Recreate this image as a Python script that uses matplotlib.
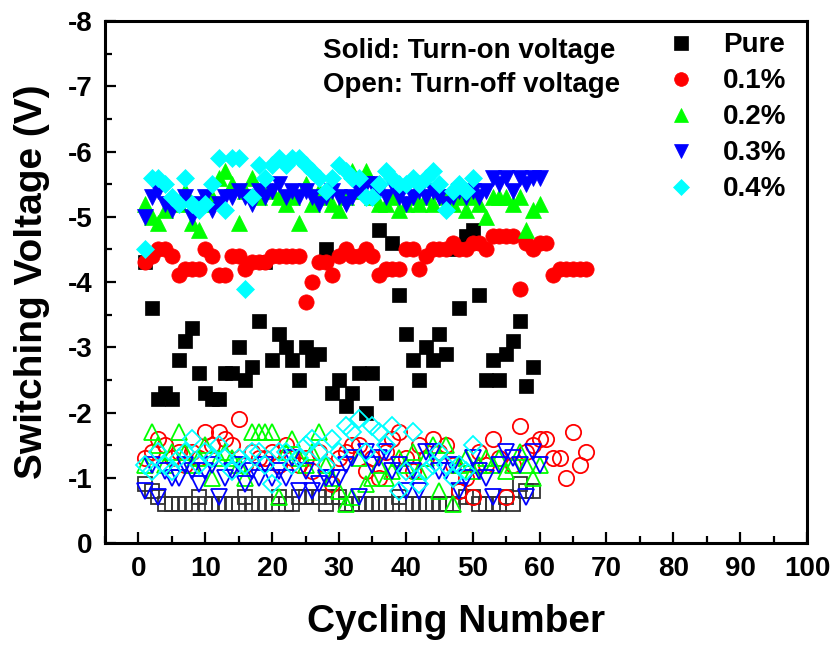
import numpy as np
import matplotlib
matplotlib.use("Agg")
import matplotlib.pyplot as plt
from matplotlib.ticker import MultipleLocator

plt.rcParams["axes.unicode_minus"] = False

# Turn-on voltages (solid markers), one value per cycle starting at cycle 1
pure_on = [-4.3, -3.6, -2.2, -2.3, -2.2, -2.8, -3.1, -3.3, -2.6, -2.3,
           -2.2, -2.2, -2.6, -2.6, -3.0, -2.5, -2.7, -3.4, -4.3, -2.8,
           -3.2, -3.0, -2.8, -2.5, -3.0, -2.8, -2.9, -4.5, -2.3, -2.5,
           -2.1, -2.3, -2.6, -2.0, -2.6, -4.8, -2.3, -4.6, -3.8, -3.2,
           -2.8, -2.5, -3.0, -2.8, -3.2, -2.9, -4.5, -3.6, -4.7, -4.8,
           -3.8, -2.5, -2.8, -2.5, -2.9, -3.1, -3.4, -2.4, -2.7]
p01_on = [-4.3, -4.4, -4.5, -4.5, -4.4, -4.1, -4.2, -4.2, -4.2, -4.5,
          -4.4, -4.1, -4.1, -4.4, -4.4, -4.2, -4.3, -4.3, -4.3, -4.4,
          -4.4, -4.4, -4.4, -4.4, -3.7, -4.0, -4.3, -4.3, -4.1, -4.4,
          -4.5, -4.4, -4.4, -4.5, -4.4, -4.1, -4.2, -4.2, -4.2, -4.5,
          -4.5, -4.2, -4.4, -4.5, -4.5, -4.5, -4.6, -4.5, -4.5, -4.6,
          -4.6, -4.5, -4.7, -4.7, -4.7, -4.7, -3.9, -4.6, -4.5, -4.6,
          -4.6, -4.1, -4.2, -4.2, -4.2, -4.2, -4.2]
p02_on = [-5.2, -5.0, -4.9, -5.1, -5.3, -5.2, -5.4, -4.9, -4.8, -5.2,
          -5.3, -5.6, -5.7, -5.5, -4.9, -5.4, -5.6, -5.3, -5.5, -5.4,
          -5.3, -5.2, -5.3, -4.9, -5.5, -5.2, -5.4, -5.3, -5.2, -5.1,
          -5.3, -5.7, -5.4, -5.7, -5.3, -5.2, -5.2, -5.3, -5.1, -5.2,
          -5.3, -5.2, -5.3, -5.2, -5.4, -5.3, -5.2, -5.3, -5.1, -5.3,
          -5.2, -5.0, -5.3, -5.3, -5.3, -5.2, -5.3, -4.8, -5.1, -5.2]
p03_on = [-5.0, -5.3, -5.4, -5.2, -5.1, -5.2, -5.3, -5.0, -5.2, -5.3,
          -5.1, -5.2, -5.3, -5.3, -5.4, -5.3, -5.2, -5.4, -5.3, -5.4,
          -5.5, -5.3, -5.4, -5.3, -5.4, -5.3, -5.2, -5.3, -5.4, -5.3,
          -5.2, -5.3, -5.4, -5.5, -5.5, -5.4, -5.3, -5.5, -5.3, -5.2,
          -5.3, -5.4, -5.3, -5.4, -5.3, -5.2, -5.3, -5.4, -5.3, -5.4,
          -5.3, -5.4, -5.6, -5.5, -5.6, -5.4, -5.6, -5.5, -5.6, -5.6]
p04_on = [-4.5, -5.6, -5.6, -5.5, -5.3, -5.2, -5.6, -5.2, -5.1, -5.2,
          -5.5, -5.9, -5.1, -5.9, -5.9, -3.9, -5.3, -5.8, -5.6, -5.8,
          -5.9, -5.8, -5.9, -5.9, -5.8, -5.7, -5.6, -5.4, -5.6, -5.8,
          -5.7, -5.6, -5.6, -5.3, -5.3, -5.5, -5.7, -5.6, -5.5, -5.5,
          -5.6, -5.5, -5.6, -5.7, -5.5, -5.1, -5.4, -5.5, -5.4, -5.6]

# Turn-off voltages (open markers)
pure_off = [-0.9, -0.8, -0.7, -0.6, -0.6, -0.6, -0.6, -0.6, -0.7, -0.6,
            -0.6, -0.6, -0.6, -0.6, -0.6, -0.7, -0.6, -0.6, -0.6, -0.6,
            -0.7, -0.6, -0.6, -0.7, -0.7, -0.7, -0.7, -0.6, -0.7, -0.7,
            -0.6, -0.6, -0.6, -0.6, -0.6, -0.6, -0.6, -0.6, -0.7, -0.6,
            -0.6, -0.6, -0.6, -0.6, -0.6, -0.6, -0.6, -0.8, -0.7, -0.7,
            -0.6, -0.6, -0.6, -0.6, -0.7, -0.6, -0.9, -0.8, -0.8]
p01_off = [-1.3, -1.4, -1.6, -1.5, -1.3, -1.4, -1.2, -1.4, -1.3, -1.7,
           -1.5, -1.7, -1.6, -1.5, -1.9, -1.2, -1.4, -1.3, -1.3, -1.4,
           -1.2, -1.5, -1.3, -1.2, -1.3, -1.1, -1.4, -1.2, -0.9, -1.3,
           -1.4, -1.5, -1.5, -1.1, -1.3, -1.0, -1.4, -1.6, -1.7, -1.3,
           -1.1, -1.5, -1.3, -1.6, -1.4, -1.5, -1.2, -0.8, -1.0, -0.7,
           -1.4, -1.2, -1.6, -1.3, -0.7, -1.2, -1.8, -1.4, -1.5, -1.6,
           -1.6, -1.3, -1.3, -1.0, -1.7, -1.2, -1.4]
p02_off = [-1.2, -1.7, -1.5, -1.2, -1.4, -1.7, -1.4, -1.2, -1.3, -1.5,
           -1.0, -1.3, -1.4, -1.3, -1.2, -1.0, -1.7, -1.7, -1.7, -1.7,
           -0.7, -1.4, -1.6, -1.3, -1.2, -1.4, -1.7, -1.2, -1.0, -0.8,
           -0.6, -0.7, -1.3, -0.9, -1.0, -1.2, -1.0, -1.1, -1.3, -1.2,
           -1.4, -1.1, -1.3, -1.5, -0.8, -1.5, -0.6, -1.2, -1.3, -1.1,
           -1.2, -1.3, -1.2, -1.3, -1.1, -1.2, -1.4, -1.2, -1.0, -1.2]
p03_off = [-0.8, -1.2, -0.7, -1.1, -1.0, -1.0, -1.2, -1.1, -0.9, -1.1,
           -1.2, -0.7, -1.0, -1.1, -1.2, -0.9, -1.1, -1.0, -1.2, -1.0,
           -1.1, -1.0, -1.3, -0.8, -1.1, -0.8, -0.9, -1.0, -1.0, -1.0,
           -1.2, -1.3, -0.7, -1.4, -1.2, -1.3, -1.4, -1.1, -1.2, -0.8,
           -1.1, -0.8, -1.4, -1.4, -1.1, -1.1, -1.2, -0.8, -1.0, -1.3,
           -1.1, -1.0, -0.7, -1.2, -1.4, -1.3, -1.2, -0.7, -1.4, -1.2]
p04_off = [-1.2, -1.1, -1.4, -1.2, -1.1, -1.3, -1.4, -1.6, -1.2, -1.4,
           -1.3, -1.5, -1.3, -1.1, -1.3, -1.2, -1.4, -1.4, -1.2, -0.9,
           -1.4, -1.4, -1.2, -1.3, -1.5, -1.6, -1.4, -1.2, -1.6, -1.4,
           -1.8, -1.7, -1.9, -1.4, -1.8, -1.7, -1.5, -1.8, -0.8, -1.1,
           -1.7, -0.9, -1.1, -1.2, -1.4, -1.2, -1.0, -1.2, -1.1, -1.5]

labels = ["Pure", "0.1%", "0.2%", "0.3%", "0.4%"]
x_ticks = [0, 10, 20, 30, 40, 50, 60, 70, 80, 90, 100]
y_ticks = [0, -1, -2, -3, -4, -5, -6, -7, -8]

on_sets = [pure_on, p01_on, p02_on, p03_on, p04_on]
off_sets = [pure_off, p01_off, p02_off, p03_off, p04_off]
colors = ["#000000", "#ff0000", "#00ff00", "#0000ff", "#00ffff"]
edge_off = ["#333333", "#ff0000", "#00ff00", "#0000ff", "#00ffff"]
markers = ["s", "o", "^", "v", "D"]
sizes = [10.5, 11, 11.5, 11.5, 9.0]

font = ["Liberation Sans", "DejaVu Sans"]

fig = plt.figure(figsize=(8.34, 6.48), dpi=100)
ax = fig.add_axes([0.1259, 0.162, 0.8417, 0.8056])

handles = []
for vals, c, m, s, lab in zip(on_sets, colors, markers, sizes, labels):
    xs = np.arange(1, len(vals) + 1)
    h, = ax.plot(xs, vals, ls="none", marker=m, ms=s, mfc=c, mec=c,
                 mew=0.5, label=lab)
    handles.append(h)
for vals, c, m, s in zip(off_sets, edge_off, markers, sizes):
    xs = np.arange(1, len(vals) + 1)
    ax.plot(xs, vals, ls="none", marker=m, ms=s, mfc="none", mec=c, mew=1.3)

ax.set_xlim(-5, 100)
ax.set_ylim(0, -8)
ax.set_xticks(x_ticks)
ax.set_yticks(y_ticks)
ax.xaxis.set_minor_locator(MultipleLocator(5))
ax.yaxis.set_minor_locator(MultipleLocator(0.5))
ax.tick_params(which="both", direction="in", top=False, right=False,
               width=1.6)
ax.tick_params(which="major", length=8, pad=9)
ax.tick_params(which="minor", length=5)
for lbl in ax.get_xticklabels() + ax.get_yticklabels():
    lbl.set_fontfamily(font)
    lbl.set_fontweight("bold")
    lbl.set_fontsize(20)
for sp in ax.spines.values():
    sp.set_linewidth(2.2)

ax.set_xlabel("Cycling Number", fontfamily=font, fontweight="bold",
              fontsize=28, labelpad=16)
ax.set_ylabel("Switching Voltage (V)", fontfamily=font, fontweight="bold",
              fontsize=28, labelpad=13)

ax.text(0.31, 0.968, "Solid: Turn-on voltage", transform=ax.transAxes,
        fontfamily=font, fontweight="bold", fontsize=20, va="top", ha="left")
ax.text(0.31, 0.902, "Open: Turn-off voltage", transform=ax.transAxes,
        fontfamily=font, fontweight="bold", fontsize=20, va="top", ha="left")

leg = ax.legend(handles=handles, loc="upper left",
                bbox_to_anchor=(0.765, 1.026), frameon=False,
                prop={"family": font, "weight": "bold", "size": 20},
                handlelength=1.0, handletextpad=1.02, labelspacing=0.36,
                markerscale=0.9)

fig.savefig("out.png", dpi=100)
